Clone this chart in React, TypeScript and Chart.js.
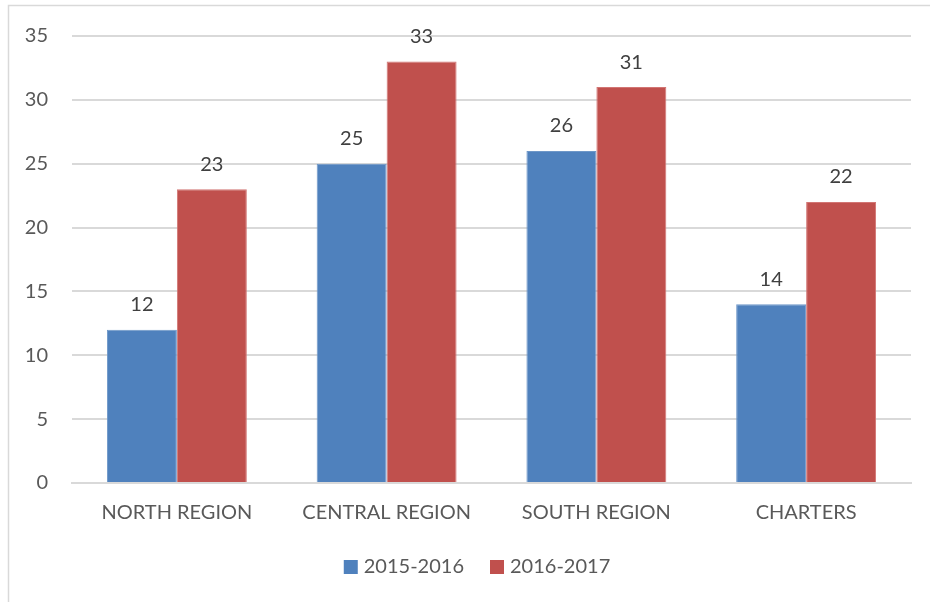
import React, { useEffect, useRef } from "react";
import { Chart, registerables } from "chart.js";

Chart.register(...registerables);

const categories = ["NORTH REGION", "CENTRAL REGION", "SOUTH REGION", "CHARTERS"];
const series2015 = [12, 25, 26, 14];
const series2016 = [23, 33, 31, 22];
const seriesLabels = ["2015-2016", "2016-2017"];
const yTicks = { min: 0, max: 35, step: 5 };

const FONT = "Lato, 'Open Sans', sans-serif";
const BLUE = "#4F81BD";
const RED = "#C0504D";

const borderPlugin = {
  id: "outerBorder",
  beforeDraw(chart: any) {
    const ctx = chart.ctx;
    ctx.save();
    ctx.fillStyle = "#ffffff";
    ctx.fillRect(0, 0, chart.width, chart.height);
    ctx.strokeStyle = "#D9D9D9";
    ctx.lineWidth = 1.5;
    ctx.strokeRect(8.5, 5.5, chart.width + 20, chart.height + 20);
    ctx.restore();
  },
};

const dataLabelPlugin = {
  id: "dataLabels",
  afterDatasetsDraw(chart: any) {
    const ctx = chart.ctx;
    ctx.save();
    ctx.font = `20px ${FONT}`;
    ctx.fillStyle = "#404040";
    ctx.textAlign = "center";
    ctx.textBaseline = "middle";
    chart.data.datasets.forEach((ds: any, i: number) => {
      const meta = chart.getDatasetMeta(i);
      meta.data.forEach((el: any, j: number) => {
        ctx.fillText(String(ds.data[j]), el.x, el.y - 25);
      });
    });
    ctx.restore();
  },
};

const legendPlugin = {
  id: "customLegend",
  afterDraw(chart: any) {
    const ctx = chart.ctx;
    ctx.save();
    ctx.font = `20px ${FONT}`;
    ctx.textBaseline = "middle";
    ctx.textAlign = "left";
    const box = 14;
    const gapBoxText = 6;
    const gapItems = 26;
    const items = chart.data.datasets.map((ds: any) => ({
      label: ds.label,
      color: ds.backgroundColor,
      w: ctx.measureText(ds.label).width,
    }));
    const total =
      items.reduce((s: number, it: any) => s + box + gapBoxText + it.w, 0) +
      gapItems * (items.length - 1);
    const cx = 477;
    const cy = 567;
    let x = cx - total / 2;
    items.forEach((it: any) => {
      ctx.fillStyle = it.color;
      ctx.fillRect(x, cy - box / 2, box, box);
      x += box + gapBoxText;
      ctx.fillStyle = "#595959";
      ctx.fillText(it.label, x, cy);
      x += it.w + gapItems;
    });
    ctx.restore();
  },
};

export default function App() {
  const ref = useRef<HTMLCanvasElement>(null);
  useEffect(() => {
    if (!ref.current) return;
    const chart = new Chart(ref.current, {
      type: "bar",
      data: {
        labels: categories,
        datasets: [
          {
            label: seriesLabels[0],
            data: series2015,
            backgroundColor: BLUE,
            borderColor: "#6E97C8",
            borderWidth: 1,
            categoryPercentage: 0.667,
            barPercentage: 1,
          },
          {
            label: seriesLabels[1],
            data: series2016,
            backgroundColor: RED,
            borderColor: "#D27573",
            borderWidth: 1,
            categoryPercentage: 0.667,
            barPercentage: 1,
          },
        ],
      },
      options: {
        animation: false,
        responsive: false,
        devicePixelRatio: 1,
        layout: { padding: { top: 34, right: 19, left: 0, bottom: 59 } },
        plugins: {
          legend: { display: false },
          tooltip: { enabled: false },
        },
        scales: {
          x: {
            grid: { display: false, drawTicks: false },
            border: { display: true, color: "#D9D9D9", width: 2 },
            ticks: {
              color: "#595959",
              font: { family: FONT, size: 20 },
              padding: 18,
              maxRotation: 0,
              autoSkip: false,
            },
          },
          y: {
            min: yTicks.min,
            max: yTicks.max,
            afterFit(scale: any) {
              scale.width = 72;
            },
            grid: { color: "#D9D9D9", lineWidth: 2, drawTicks: false },
            border: { display: false },
            ticks: {
              stepSize: yTicks.step,
              color: "#595959",
              font: { family: FONT, size: 20 },
              padding: 24,
            },
          },
        },
      },
      plugins: [borderPlugin, dataLabelPlugin, legendPlugin],
    });
    return () => chart.destroy();
  }, []);
  return (
    <div style={{ position: "fixed", left: 0, top: 0, width: 930, height: 602 }}>
      <canvas ref={ref} width={930} height={602} style={{ display: "block" }} />
    </div>
  );
}
